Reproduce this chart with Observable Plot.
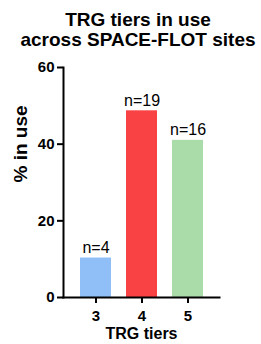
<!DOCTYPE html>
<html>
<head>
<meta charset="utf-8">
<script src="https://cdn.jsdelivr.net/npm/d3@7"></script>
<script src="https://cdn.jsdelivr.net/npm/@observablehq/plot@0.6"></script>
<style>
  html, body { margin: 0; padding: 0; background: #fff; }
  #title { font-family: "Liberation Sans", Arial, sans-serif; font-weight: bold; font-size: 19px; text-align: center; line-height: 20px; padding-top: 10px; height: 42px; color: #000; padding-left: 15px; white-space: nowrap; }
</style>
</head>
<body>
<div id="title">TRG tiers in use<br>across SPACE-FLOT sites</div>
<div id="chart"></div>
<script>
const tiers = ["3", "4", "5"];
const pctInUse = [10.3, 48.7, 41.0];
const counts = ["n=4", "n=19", "n=16"];
const colors = ["#90bff7", "#f94244", "#aadcaa"];
const yTicks = [0, 20, 40, 60];

const data = tiers.map((t, i) => ({tier: t, pct: pctInUse[i], label: counts[i], color: colors[i]}));
const font = '"Liberation Sans", Arial, sans-serif';

const chart = Plot.plot({
  width: 261,
  height: 292,
  marginLeft: 63,
  marginRight: 42,
  marginTop: 15,
  marginBottom: 47,
  style: {fontFamily: font, color: "#000", background: "#fff", overflow: "visible"},
  x: {domain: tiers, paddingInner: 0.33, paddingOuter: 0.36, axis: null},
  y: {domain: [0, 60], axis: null},
  marks: [
    Plot.barY(data, {x: "tier", y: "pct", fill: "color"}),
    Plot.text(data, {x: "tier", y: "pct", text: "label", dy: -5, lineAnchor: "bottom", fontSize: 16, fill: "#000"}),
    Plot.axisY(yTicks, {tickSize: 6, tickPadding: 3, strokeWidth: 2, fontSize: 15, fontWeight: "bold", label: null, fill: "#000", stroke: "#000"}),
    Plot.axisX({tickSize: 6, tickPadding: 7, strokeWidth: 2, fontSize: 15, fontWeight: "bold", label: null, fill: "#000", stroke: "#000"}),
    Plot.frame({anchor: "left", strokeWidth: 2, stroke: "#000"}),
    Plot.frame({anchor: "bottom", strokeWidth: 2, stroke: "#000"}),
    Plot.text(["% in use"], {frameAnchor: "left", dx: -43, rotate: -90, fontSize: 19, fontWeight: "bold", fill: "#000"}),
    Plot.text(["TRG tiers"], {frameAnchor: "bottom", dy: 30, lineAnchor: "top", fontSize: 16, fontWeight: "bold", fill: "#000"})
  ]
});
document.getElementById("chart").appendChild(chart);
</script>
</body>
</html>
